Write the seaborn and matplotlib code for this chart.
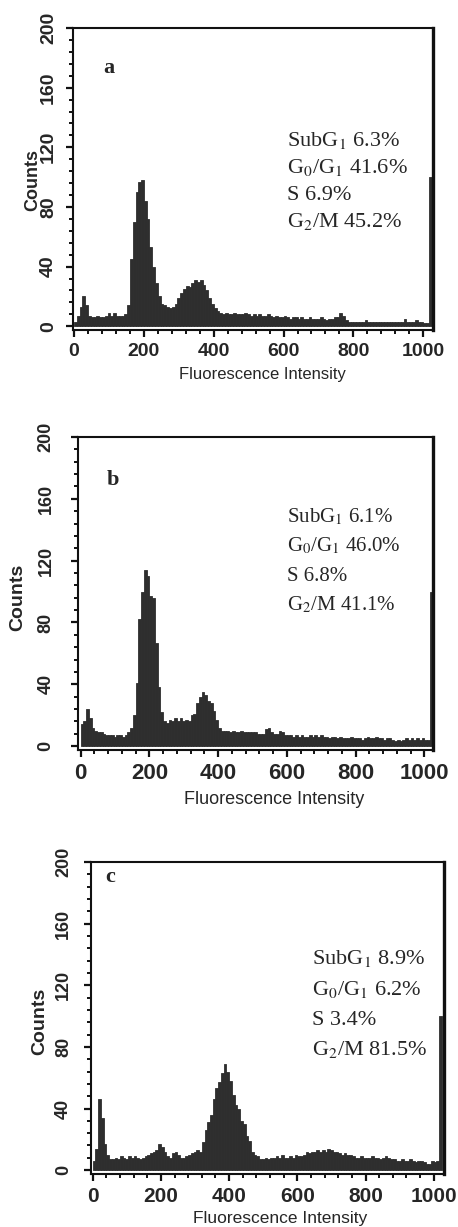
import numpy as np
import pandas as pd
import matplotlib
matplotlib.use("Agg")
import matplotlib.pyplot as plt
from matplotlib.ticker import MultipleLocator
import seaborn as sns

sns.set_style("ticks")
plt.rcParams["font.family"] = ["Liberation Sans", "DejaVu Sans"]
plt.rcParams["mathtext.fontset"] = "stix"

# fluorescence channels, grouped 8 per bin
channel = np.arange(0, 1024, 8) + 4

counts_a = [3, 7, 13, 20, 14, 7, 6, 6, 7, 6, 6, 7, 9, 7, 9, 7,
            7, 7, 8, 14, 45, 70, 90, 97, 98, 84, 72, 53, 40, 29, 20, 15,
            14, 13, 12, 13, 15, 19, 22, 25, 27, 26, 29, 31, 30, 31, 28, 24,
            19, 15, 12, 10, 9, 8, 9, 8, 8, 9, 8, 8, 8, 9, 8, 7,
            8, 7, 8, 7, 7, 8, 7, 6, 7, 6, 6, 7, 6, 5, 6, 6,
            5, 6, 5, 5, 6, 5, 5, 5, 6, 5, 4, 5, 5, 6, 6, 9,
            7, 4, 3, 3, 3, 3, 3, 3, 4, 3, 3, 3, 3, 3, 3, 3,
            3, 3, 3, 3, 3, 3, 5, 3, 3, 3, 4, 3, 3, 2, 2, 100]

counts_b = [14, 16, 24, 18, 12, 10, 9, 9, 8, 7, 7, 7, 6, 7, 7, 6,
            7, 9, 12, 20, 41, 82, 100, 114, 110, 97, 96, 67, 38, 22, 16, 15,
            17, 16, 18, 16, 18, 16, 17, 16, 20, 21, 28, 32, 35, 33, 29, 28,
            23, 17, 12, 10, 10, 10, 9, 10, 9, 9, 10, 9, 9, 9, 9, 9,
            8, 8, 8, 11, 12, 9, 8, 8, 10, 9, 7, 7, 7, 6, 7, 6,
            7, 6, 6, 7, 6, 7, 6, 7, 6, 6, 5, 6, 6, 5, 6, 5,
            5, 5, 6, 5, 5, 5, 4, 5, 6, 5, 5, 6, 5, 5, 4, 5,
            5, 4, 3, 4, 3, 4, 5, 4, 5, 4, 5, 4, 5, 4, 4, 100]

counts_c = [6, 14, 46, 34, 17, 10, 7, 7, 8, 7, 9, 8, 7, 9, 8, 9,
            8, 7, 8, 9, 10, 11, 12, 13, 17, 15, 12, 9, 8, 11, 12, 10,
            8, 8, 9, 10, 11, 12, 13, 12, 18, 26, 31, 36, 46, 53, 57, 63,
            69, 64, 58, 49, 42, 40, 32, 30, 22, 19, 12, 10, 9, 7, 7, 8,
            7, 8, 8, 9, 8, 10, 8, 8, 9, 8, 10, 9, 9, 10, 12, 11,
            12, 12, 13, 12, 13, 12, 14, 13, 12, 12, 11, 10, 11, 10, 10, 9,
            8, 8, 9, 8, 8, 8, 9, 8, 8, 7, 8, 9, 8, 7, 7, 6,
            6, 7, 6, 6, 7, 6, 5, 6, 6, 5, 4, 4, 6, 5, 6, 100]

phases_a = ["SubG$_1$ 6.3%", "G$_0$/G$_1$ 41.6%", "S 6.9%", "G$_2$/M 45.2%"]
phases_b = ["SubG$_1$ 6.1%", "G$_0$/G$_1$ 46.0%", "S 6.8%", "G$_2$/M 41.1%"]
phases_c = ["SubG$_1$ 8.9%", "G$_0$/G$_1$ 6.2%", "S 3.4%", "G$_2$/M 81.5%"]

x_ticks = [0, 200, 400, 600, 800, 1000]
y_ticks = [0, 40, 80, 120, 160, 200]

W, H = 458, 1227
fig = plt.figure(figsize=(W / 100, H / 100), dpi=100)


def fx(px):
    return px / W


def fy(py):
    return 1 - py / H


panels = [
    dict(letter="a", counts=counts_a, phases=phases_a, box=(73, 28, 433, 330),
         xlim=(-3, 1028), xfs=14, yfs=14, xpad=4.3, ypad=6.5,
         xlab=(262, 375, 12), ylab=(33, 180, 13), let=(109, 68),
         tx=287, base=[146, 173, 200, 227], tfs=16),
    dict(letter="b", counts=counts_b, phases=phases_b, box=(78, 437, 433, 750),
         xlim=(-8, 1025), xfs=16, yfs=13, xpad=4.3, ypad=12,
         xlab=(274, 799, 13), ylab=(18, 597, 14), let=(113, 480),
         tx=287, base=[522, 551, 581, 610], tfs=15),
    dict(letter="c", counts=counts_c, phases=phases_c, box=(91, 862, 444, 1174),
         xlim=(-5, 1030), xfs=15, yfs=13, xpad=4.3, ypad=8.5,
         xlab=(280, 1219, 12.5), ylab=(40, 1021, 14), let=(110, 877),
         tx=312, base=[964, 995, 1025, 1055], tfs=16),
]

for p in panels:
    l, t, r, b = p["box"]
    ax = fig.add_axes([fx(l), fy(b), (r - l) / W, (b - t) / H])
    df = pd.DataFrame({"channel": channel, "n": p["counts"]})
    sns.histplot(data=df, x="channel", weights="n", binwidth=8, binrange=(0, 1024),
                 element="bars", fill=True, color="#2e2e2e", edgecolor="#2e2e2e",
                 alpha=1, linewidth=0.6, ax=ax)
    ax.set_xlim(*p["xlim"])
    ax.set_ylim(-2.5, 200)

    ax.set_xticks(x_ticks)
    ax.set_xticklabels([str(v) for v in x_ticks], fontsize=p["xfs"], fontweight="bold")
    ax.set_yticks(y_ticks)
    ax.set_yticklabels([str(v) for v in y_ticks], fontsize=p["yfs"], fontweight="bold",
                       rotation=90, va="center")
    ax.xaxis.set_minor_locator(MultipleLocator(40))
    ax.yaxis.set_minor_locator(MultipleLocator(8))
    ax.tick_params(which="major", length=5, width=1.6, color="#111111")
    ax.tick_params(which="minor", length=2.8, width=1.4, color="#111111")
    ax.tick_params(axis="x", which="major", pad=p["xpad"])
    ax.tick_params(axis="y", which="major", pad=p["ypad"])

    for side in ["top", "left", "bottom"]:
        ax.spines[side].set_linewidth(1.5)
        ax.spines[side].set_color("#111111")
    ax.spines["right"].set_linewidth(2.4)
    ax.spines["right"].set_color("#111111")

    xl_x, xl_y, xl_fs = p["xlab"]
    ax.set_xlabel("Fluorescence Intensity", fontsize=xl_fs)
    ax.xaxis.set_label_coords(fx(xl_x), fy(xl_y), transform=fig.transFigure)
    ax.xaxis.label.set_va("center")
    yl_x, yl_y, yl_fs = p["ylab"]
    ax.set_ylabel("Counts", fontsize=yl_fs, fontweight="bold")
    ax.yaxis.set_label_coords(fx(yl_x), fy(yl_y), transform=fig.transFigure)
    ax.yaxis.label.set_va("center")

    fig.text(fx(p["let"][0]), fy(p["let"][1]), p["letter"], fontsize=16,
             fontweight="bold", family="Liberation Serif", ha="center", va="center")
    for line, yb in zip(p["phases"], p["base"]):
        fig.text(fx(p["tx"]), fy(yb), line, fontsize=p["tfs"],
                 family="Liberation Serif", va="baseline")

fig.savefig("out.png", dpi=100)
